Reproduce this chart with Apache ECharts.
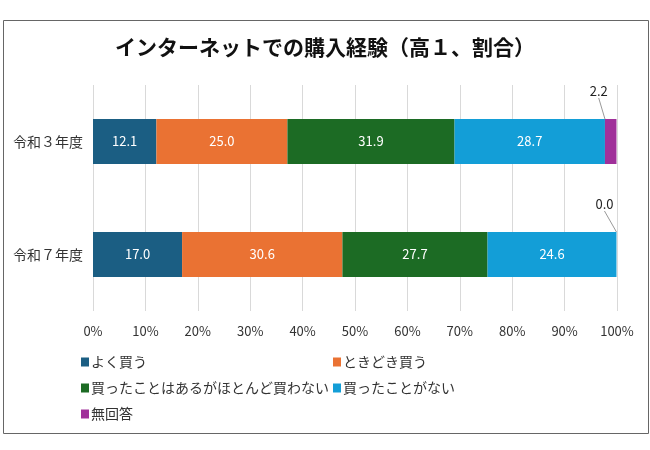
<!DOCTYPE html>
<html>
<head>
<meta charset="utf-8">
<script src="https://cdn.jsdelivr.net/npm/echarts@6/dist/echarts.min.js"></script>
<style>
  html, body { margin: 0; padding: 0; background: #fff; }
  #echarts { width: 650px; height: 450px; }
</style>
</head>
<body>
<div id="echarts"></div>
<script>
var categories = ['令和３年度', '令和７年度'];
var xTicks = [0, 10, 20, 30, 40, 50, 60, 70, 80, 90, 100];
var yokuKau = [12.1, 17.0];          // よく買う
var tokidoki = [25.0, 30.6];         // ときどき買う
var hotondo = [31.9, 27.7];          // 買ったことはあるがほとんど買わない
var kattaKotoNai = [28.7, 24.6];     // 買ったことがない
var mukaitou = [2.2, 0.0];           // 無回答

window.onload = function(){
    var font = '"Noto Sans CJK JP", "Noto Sans", sans-serif';
    function fmt(p){ return p.value.toFixed(1); }
    function inner(name, data, color){
        return {
            name: name, type: 'bar', stack: 'all', data: data,
            barWidth: 45,
            itemStyle: { color: color },
            label: { show: true, position: 'inside', color: '#fff', fontSize: 13, fontFamily: font, formatter: fmt }
        };
    }
    var option = {
        backgroundColor: '#fff',
        textStyle: { fontFamily: font },
        title: {
            text: 'インターネットでの購入経験（高１、割合）',
            left: 'center', top: 32,
            textStyle: { fontSize: 21, fontWeight: 'bold', color: '#111', fontFamily: font }
        },
        graphic: [{   //外枠
            type: 'rect', left: 1, top: 18,
            shape: { width: 645, height: 413 },
            style: { fill: 'none', stroke: '#666', lineWidth: 1 }
        }],
        legend: [{
            data: ['よく買う', '買ったことはあるがほとんど買わない', '無回答'],
            orient: 'vertical', left: 76, top: 350, itemGap: 12,
            icon: 'rect', itemWidth: 8, itemHeight: 9,
            textStyle: { fontSize: 14, color: '#333', padding: [0, 0, 0, -3] }
        }, {
            data: ['ときどき買う', '買ったことがない'],
            orient: 'vertical', left: 328, top: 350, itemGap: 12,
            icon: 'rect', itemWidth: 8, itemHeight: 9,
            textStyle: { fontSize: 14, color: '#333', padding: [0, 0, 0, -3] }
        }],
        grid: { left: 93, right: 33, top: 85, bottom: 139 },
        xAxis: {
            type: 'value', min: xTicks[0], max: xTicks[xTicks.length - 1], interval: 10,
            axisLine: { show: false },
            axisTick: { show: false },
            axisLabel: { formatter: '{value}%', color: '#333', fontSize: 13, margin: 14 },
            splitLine: { lineStyle: { color: '#d9d9d9' } }
        },
        yAxis: {
            type: 'category', data: categories, inverse: true,
            axisLine: { show: false },
            axisTick: { show: false },
            axisLabel: { color: '#333', fontSize: 14, margin: 10 }
        },
        series: [
            inner('よく買う', yokuKau, '#1b5e83'),
            inner('ときどき買う', tokidoki, '#ea7233'),
            inner('買ったことはあるがほとんど買わない', hotondo, '#1c6b24'),
            inner('買ったことがない', kattaKotoNai, '#139ed7'),
            {
                name: '無回答', type: 'bar', stack: 'all', data: mukaitou,
                barWidth: 45,
                itemStyle: { color: '#a0309a' },
                label: { show: true, position: 'top', color: '#222', fontSize: 13, formatter: fmt },
                labelLayout: { dx: -12, dy: -16 },
                labelLine: { show: true, lineStyle: { color: '#999', width: 1 } }
            }
        ]
    };
    var myChart = echarts.init(document.getElementById('echarts'));
    myChart.setOption(option);
};
</script>
</body>
</html>
